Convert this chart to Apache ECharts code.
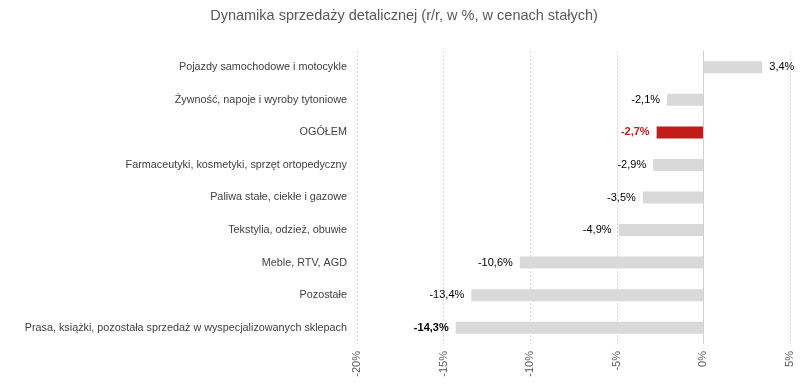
<!DOCTYPE html>
<html><head><meta charset="utf-8">
<script src="https://cdn.jsdelivr.net/npm/echarts@6/dist/echarts.min.js"></script>
<style>html,body{margin:0;padding:0;background:#fff}#c{width:808px;height:388px}</style>
</head><body><div id="c"></div>
<script>
const categories = ["Pojazdy samochodowe i motocykle","Żywność, napoje i wyroby tytoniowe","OGÓŁEM","Farmaceutyki, kosmetyki, sprzęt ortopedyczny","Paliwa stałe, ciekłe i gazowe","Tekstylia, odzież, obuwie","Meble, RTV, AGD","Pozostałe","Prasa, książki, pozostała sprzedaż w wyspecjalizowanych sklepach"];
const values = [3.4,-2.1,-2.7,-2.9,-3.5,-4.9,-10.6,-13.4,-14.3];
const xTicks = [-20,-15,-10,-5,0,5];
const highlight = "OGÓŁEM";
const boldLabel = "Prasa, książki, pozostała sprzedaż w wyspecjalizowanych sklepach";

const fmt = v => String(v.toFixed(1)).replace('.', ',') + '%';
const data = values.map((v,i) => {
  const isH = categories[i] === highlight;
  const isB = categories[i] === boldLabel;
  return {
    value: v,
    itemStyle: {color: isH ? '#c41a1a' : '#d9d9d9'},
    label: {
      position: v < 0 ? 'left' : 'right',
      color: isH ? '#c41a1a' : '#000',
      fontWeight: (isH || isB) ? 'bold' : 'normal'
    }
  };
});
const chart = echarts.init(document.getElementById('c'));
chart.setOption({
  animation: false,
  title: {text: 'Dynamika sprzedaży detalicznej (r/r, w %, w cenach stałych)', left: 'center', top: 3,
    textStyle: {fontFamily: 'Liberation Sans', fontSize: 14.5, fontWeight: 'normal', color: '#595959'}},
  grid: {left: 357, right: 18, top: 51, bottom: 44},
  xAxis: {type: 'value', min: xTicks[0], max: xTicks[xTicks.length-1], interval: 5,
    axisLine: {show: false}, axisTick: {show: false},
    splitLine: {show: true, lineStyle: {color: '#d9d9d9', type: [2,2]}},
    axisLabel: {rotate: 90, formatter: v => v + '%', color: '#595959', fontFamily: 'Liberation Sans', fontSize: 11, margin: 7}},
  yAxis: {type: 'category', data: categories, inverse: true,
    axisLine: {show: false}, axisTick: {show: false},
    axisLabel: {color: '#404040', fontFamily: 'Liberation Sans', fontSize: 10.8, margin: 10}},
  series: [{type: 'bar', data: data, barWidth: 12,
    label: {show: true, formatter: p => fmt(p.value), fontFamily: 'Liberation Sans', fontSize: 11, distance: 7},
    markLine: {silent: true, symbol: 'none', label: {show: false},
      lineStyle: {color: '#d0d0d0', type: 'solid', width: 1},
      data: [{xAxis: 0}]}
  }]
});
</script></body></html>
